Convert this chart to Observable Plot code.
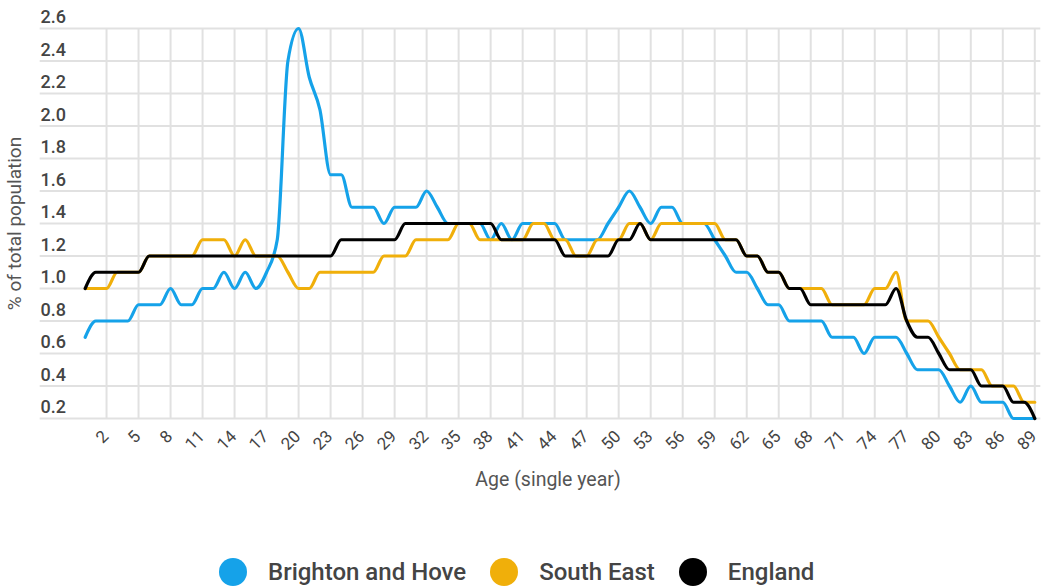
<!DOCTYPE html>
<html>
<head>
<meta charset="utf-8">
<script src="https://cdn.jsdelivr.net/npm/d3@7"></script>
<script src="https://cdn.jsdelivr.net/npm/@observablehq/plot@0.6"></script>
<style>
  html, body { margin: 0; padding: 0; background: #fff; }
  body { width: 1049px; height: 586px; position: relative; overflow: hidden; font-family: Roboto, sans-serif; }
  #chart { position: absolute; left: 0; top: 0; }
  #legend { position: absolute; left: 219px; top: 558px; height: 28px; display: flex; align-items: center; font-family: Roboto, sans-serif; font-size: 24px; color: #444; font-weight: 500; }
  .sw { width: 28px; height: 28px; border-radius: 50%; margin-right: 21px; flex: none; }
  .lab { margin-right: 24px; white-space: nowrap; }
</style>
</head>
<body>
<div id="chart"></div>
<div id="legend"></div>
<script>
const ages = [
  0,1,2,3,4,5,6,7,8,9,10,11,12,13,14,15,16,17,18,19,
  20,21,22,23,24,25,26,27,28,29,30,31,32,33,34,35,36,37,38,39,
  40,41,42,43,44,45,46,47,48,49,50,51,52,53,54,55,56,57,58,59,
  60,61,62,63,64,65,66,67,68,69,70,71,72,73,74,75,76,77,78,79,
  80,81,82,83,84,85,86,87,88,89
];
const seriesNames = ["Brighton and Hove", "South East", "England"];
const seriesColors = ["#15a2e9", "#f0af0a", "#000000"];

const brighton = [
  0.7,0.8,0.8,0.8,0.8,0.9,0.9,0.9,1.0,0.9,
  0.9,1.0,1.0,1.1,1.0,1.1,1.0,1.1,1.3,2.4,
  2.6,2.3,2.1,1.7,1.7,1.5,1.5,1.5,1.4,1.5,
  1.5,1.5,1.6,1.5,1.4,1.4,1.4,1.4,1.3,1.4,
  1.3,1.4,1.4,1.4,1.4,1.3,1.3,1.3,1.3,1.4,
  1.5,1.6,1.5,1.4,1.5,1.5,1.4,1.4,1.4,1.3,
  1.2,1.1,1.1,1.0,0.9,0.9,0.8,0.8,0.8,0.8,
  0.7,0.7,0.7,0.6,0.7,0.7,0.7,0.6,0.5,0.5,
  0.5,0.4,0.3,0.4,0.3,0.3,0.3,0.2,0.2,0.2
];
const southEast = [
  1.0,1.0,1.0,1.1,1.1,1.1,1.2,1.2,1.2,1.2,
  1.2,1.3,1.3,1.3,1.2,1.3,1.2,1.2,1.2,1.1,
  1.0,1.0,1.1,1.1,1.1,1.1,1.1,1.1,1.2,1.2,
  1.2,1.3,1.3,1.3,1.3,1.4,1.4,1.3,1.3,1.3,
  1.3,1.3,1.4,1.4,1.3,1.3,1.2,1.2,1.3,1.3,
  1.3,1.4,1.4,1.3,1.4,1.4,1.4,1.4,1.4,1.4,
  1.3,1.3,1.2,1.2,1.1,1.1,1.0,1.0,1.0,1.0,
  0.9,0.9,0.9,0.9,1.0,1.0,1.1,0.8,0.8,0.8,
  0.7,0.6,0.5,0.5,0.5,0.4,0.4,0.4,0.3,0.3
];
const england = [
  1.0,1.1,1.1,1.1,1.1,1.1,1.2,1.2,1.2,1.2,
  1.2,1.2,1.2,1.2,1.2,1.2,1.2,1.2,1.2,1.2,
  1.2,1.2,1.2,1.2,1.3,1.3,1.3,1.3,1.3,1.3,
  1.4,1.4,1.4,1.4,1.4,1.4,1.4,1.4,1.4,1.3,
  1.3,1.3,1.3,1.3,1.3,1.2,1.2,1.2,1.2,1.2,
  1.3,1.3,1.4,1.3,1.3,1.3,1.3,1.3,1.3,1.3,
  1.3,1.3,1.2,1.2,1.1,1.1,1.0,1.0,0.9,0.9,
  0.9,0.9,0.9,0.9,0.9,0.9,1.0,0.8,0.7,0.7,
  0.6,0.5,0.5,0.5,0.4,0.4,0.4,0.3,0.3,0.2
];
const xTicks = [2,5,8,11,14,17,20,23,26,29,32,35,38,41,44,47,50,53,56,59,62,65,68,71,74,77,80,83,86,89];
const yTicks = [0.2,0.4,0.6,0.8,1.0,1.2,1.4,1.6,1.8,2.0,2.2,2.4,2.6];
const yTickLabels = ["0.2","0.4","0.6","0.8","1.0","1.2","1.4","1.6","1.8","2.0","2.2","2.4","2.6"];
const xTitle = "Age (single year)";
const yTitle = "% of total population";

const seriesValues = [brighton, southEast, england];
const rows = [];
seriesNames.forEach((name, i) => {
  ages.forEach((a, j) => rows.push({series: name, age: a, value: seriesValues[i][j]}));
});

const grid = "#e1e1e1";
const chart = Plot.plot({
  width: 1049,
  height: 500,
  marginLeft: 84.7,
  marginRight: 14.7,
  marginTop: 28,
  marginBottom: 82,
  x: {domain: [0, 89], axis: null},
  y: {domain: [0.2, 2.6], axis: null},
  color: {domain: seriesNames, range: seriesColors},
  style: {fontFamily: "Roboto, sans-serif", background: "white", overflow: "visible"},
  marks: [
    Plot.ruleY(yTicks, {stroke: grid, strokeWidth: 2, insetLeft: -45, insetRight: -6}),
    Plot.ruleX(xTicks, {stroke: grid, strokeWidth: 2}),
    Plot.line(rows, {x: "age", y: "value", stroke: "series", z: "series", curve: "monotone-x", strokeWidth: 3.2}),
    Plot.text(yTicks, {y: d => d, frameAnchor: "left", text: (d, i) => yTickLabels[i], textAnchor: "start", dx: -44.7, dy: -11, fontSize: 18, fill: "#444", fontWeight: 500}),
    Plot.text(xTicks, {x: d => d, frameAnchor: "bottom", text: d => String(d), rotate: -45, textAnchor: "end", dx: 3, dy: 19, fontSize: 17, fill: "#444"}),
    Plot.text([yTitle], {frameAnchor: "left", rotate: -90, textAnchor: "middle", dx: -70, fontSize: 19, fill: "#555"}),
    Plot.text([xTitle], {frameAnchor: "bottom", textAnchor: "middle", dy: 67, dx: -12, fontSize: 19.5, fill: "#555"})
  ]
});
document.getElementById("chart").appendChild(chart);

const legend = document.getElementById("legend");
seriesNames.forEach((name, i) => {
  const sw = document.createElement("span");
  sw.className = "sw";
  sw.style.background = seriesColors[i];
  const lab = document.createElement("span");
  lab.className = "lab";
  lab.textContent = name;
  legend.appendChild(sw);
  legend.appendChild(lab);
});
</script>
</body>
</html>
